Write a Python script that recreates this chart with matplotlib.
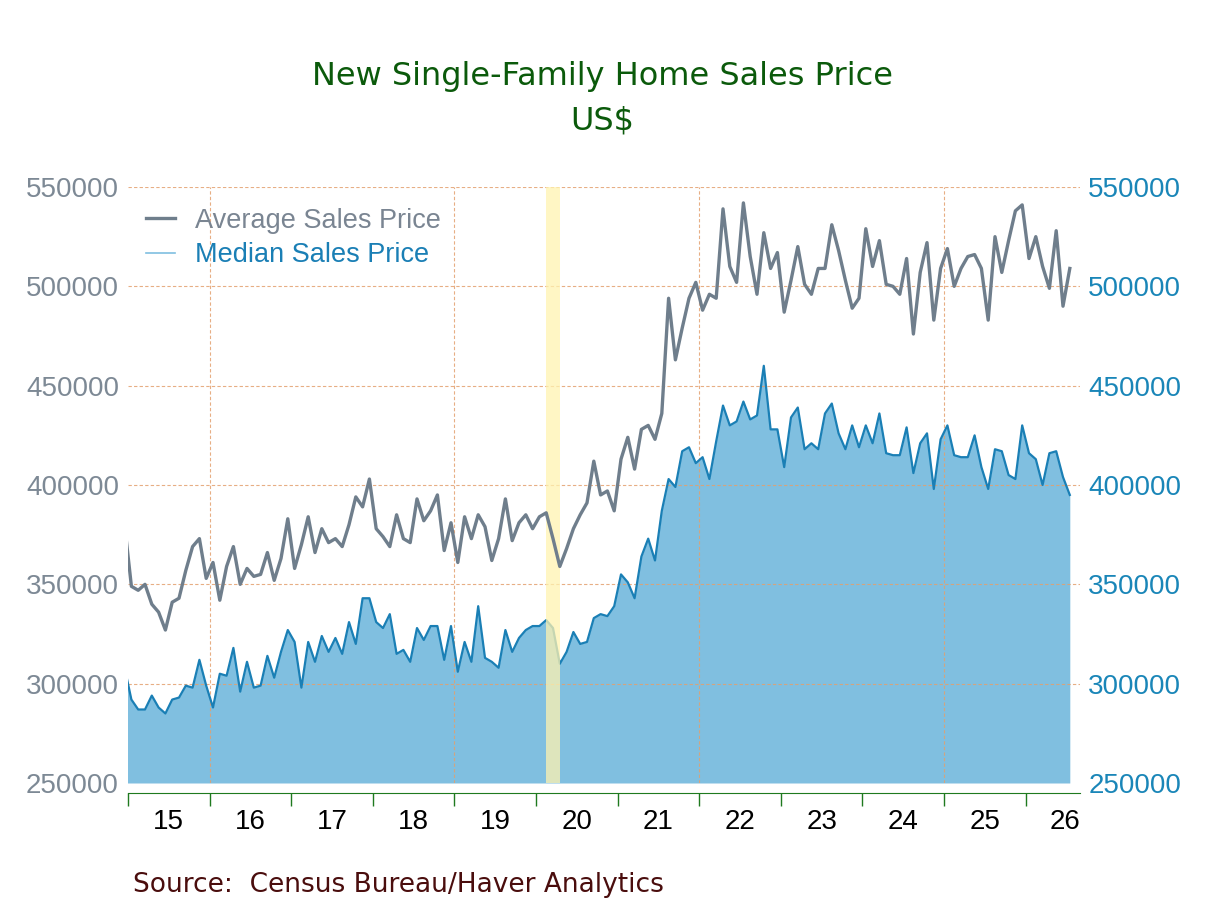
import numpy as np
import matplotlib
matplotlib.use("Agg")
import matplotlib.pyplot as plt
from matplotlib.lines import Line2D

# monthly data, Dec 2014 .. Jul 2026 (first value only feeds the clipped left edge)
start_year, start_month = 2014, 12
avg_price = [
    380000,
    349000, 347000, 350000, 340000, 336000, 327000, 341000, 343000, 357000, 369000, 373000, 353000,
    361000, 342000, 359000, 369000, 350000, 358000, 354000, 355000, 366000, 352000, 363000, 383000,
    358000, 370000, 384000, 366000, 378000, 371000, 373000, 369000, 380000, 394000, 389000, 403000,
    378000, 374000, 369000, 385000, 373000, 371000, 393000, 382000, 387000, 395000, 367000, 381000,
    361000, 384000, 373000, 385000, 379000, 362000, 373000, 393000, 372000, 381000, 385000, 378000,
    384000, 386000, 373000, 359000, 368000, 378000, 385000, 391000, 412000, 395000, 397000, 387000,
    413000, 424000, 408000, 428000, 430000, 423000, 436000, 494000, 463000, 479000, 494000, 502000,
    488000, 496000, 494000, 539000, 510000, 502000, 542000, 515000, 496000, 527000, 509000, 517000,
    487000, 503000, 520000, 501000, 496000, 509000, 509000, 531000, 518000, 503000, 489000, 494000,
    529000, 510000, 523000, 501000, 500000, 496000, 514000, 476000, 507000, 522000, 483000, 509000,
    519000, 500000, 509000, 515000, 516000, 509000, 483000, 525000, 507000, 523000, 538000, 541000,
    514000, 525000, 510000, 499000, 528000, 490000, 509000,
]
median_price = [
    308000,
    292000, 287000, 287000, 294000, 288000, 285000, 292000, 293000, 299000, 298000, 312000, 299000,
    288000, 305000, 304000, 318000, 296000, 311000, 298000, 299000, 314000, 303000, 316000, 327000,
    321000, 298000, 321000, 311000, 324000, 316000, 323000, 315000, 331000, 320000, 343000, 343000,
    331000, 328000, 335000, 315000, 317000, 311000, 328000, 322000, 329000, 329000, 312000, 329000,
    306000, 321000, 311000, 339000, 313000, 311000, 308000, 327000, 316000, 323000, 327000, 329000,
    329000, 332000, 328000, 310000, 316000, 326000, 320000, 321000, 333000, 335000, 334000, 339000,
    355000, 351000, 343000, 364000, 373000, 362000, 387000, 403000, 399000, 417000, 419000, 411000,
    414000, 403000, 422000, 440000, 430000, 432000, 442000, 433000, 435000, 460000, 428000, 428000,
    409000, 434000, 439000, 418000, 421000, 418000, 436000, 441000, 426000, 418000, 430000, 419000,
    430000, 421000, 436000, 416000, 415000, 415000, 429000, 406000, 421000, 426000, 398000, 423000,
    430000, 415000, 414000, 414000, 425000, 409000, 398000, 418000, 417000, 405000, 403000, 430000,
    416000, 413000, 400000, 416000, 417000, 404000, 395000,
]
year_labels = ["15", "16", "17", "18", "19", "20", "21", "22", "23", "24", "25", "26"]
recession = ("2020-02", "2020-04")
y_ticks = [250000, 300000, 350000, 400000, 450000, 500000, 550000]

# mid-month positions in fractional years
n = len(avg_price)
x = start_year + (start_month - 1 + np.arange(n) + 0.5) / 12.0

def ym(s):
    yy, mm = s.split("-")
    return int(yy) + (int(mm) - 1 + 0.5) / 12.0

grey = "#6f7e8c"
blue = "#1a7fb5"
fill_blue = "#80bfe0"
grid_c = "#e3a06e"
green = "#1f7a1f"

plt.rcParams["font.family"] = ["Liberation Sans", "DejaVu Sans"]

fig = plt.figure(figsize=(12.08, 9.06), dpi=100)
ax = fig.add_axes([128 / 1208, (906 - 783) / 906, (1080 - 128) / 1208, (783 - 187) / 906])

ax.fill_between(x, 250000, median_price, color=fill_blue, lw=0, zorder=1)
ax.plot(x, median_price, color=blue, lw=1.6, zorder=3)
ax.axvspan(ym(recession[0]), ym(recession[1]), color="#fff3b0", alpha=0.75, lw=0, zorder=4)
ax.plot(x, avg_price, color=grey, lw=2.4, zorder=5)

ax.set_xlim(2015, 2015 + 140 / 12.0)
ax.set_ylim(250000, 550000)

# grid
for v in y_ticks[1:]:
    ax.axhline(v, color=grid_c, lw=0.8, ls=(0, (3, 2)), alpha=0.85, zorder=2)
for yr in [2016, 2019, 2022, 2025]:
    ax.axvline(yr, color=grid_c, lw=0.8, ls=(0, (3, 2)), alpha=0.85, zorder=2)

for s in ["top", "left", "right"]:
    ax.spines[s].set_visible(False)
ax.spines["bottom"].set_position(("outward", 7))
ax.spines["bottom"].set_color(green)

ax.set_xticks(range(2015, 2027))
ax.set_xticklabels([])
ax.tick_params(axis="x", which="major", direction="out", length=9, color=green, width=1)
label_pos = [2015.5 + k for k in range(11)] + [2026.48]
ax.set_xticks(label_pos, minor=True)
ax.set_xticklabels(year_labels, minor=True)
ax.tick_params(axis="x", which="minor", length=0, pad=12, labelsize=20, labelcolor="black")

ax.set_yticks(y_ticks)
ax.set_yticklabels([str(v) for v in y_ticks])
ax.tick_params(axis="y", length=0, pad=6.5, labelsize=20, labelcolor="#7d8995")

ax2 = ax.twinx()
ax2.set_ylim(ax.get_ylim())
ax2.set_yticks(y_ticks)
ax2.set_yticklabels([str(v) for v in y_ticks])
ax2.tick_params(axis="y", length=0, pad=6, labelsize=20, labelcolor="#1a86b8")
for s in ax2.spines.values():
    s.set_visible(False)

handles = [Line2D([], [], color=grey, lw=2.4), Line2D([], [], color="#7fbfe0", lw=1.2)]
leg = ax.legend(handles, ["Average Sales Price", "Median Sales Price"],
                loc="upper left", bbox_to_anchor=(0.019, 0.965), frameon=False,
                fontsize=19.5, handlelength=1.05, handletextpad=0.75,
                labelspacing=0.3, borderpad=0, borderaxespad=0)
for t, c in zip(leg.get_texts(), ["#7a8592", blue]):
    t.set_color(c)

fig.text(602 / 1208, 1 - 77 / 906, "New Single-Family Home Sales Price",
         ha="center", va="center", fontsize=23, color="#0b5a0b", family="DejaVu Sans")
fig.text(602 / 1208, 1 - 121 / 906, "US$",
         ha="center", va="center", fontsize=23, color="#0b5a0b", family="DejaVu Sans")
fig.text(133 / 1208, 1 - 885 / 906, "Source:  Census Bureau/Haver Analytics",
         ha="left", va="center", fontsize=19, color="#4a0d0d", family="DejaVu Sans")

fig.savefig("out.png", dpi=100)
